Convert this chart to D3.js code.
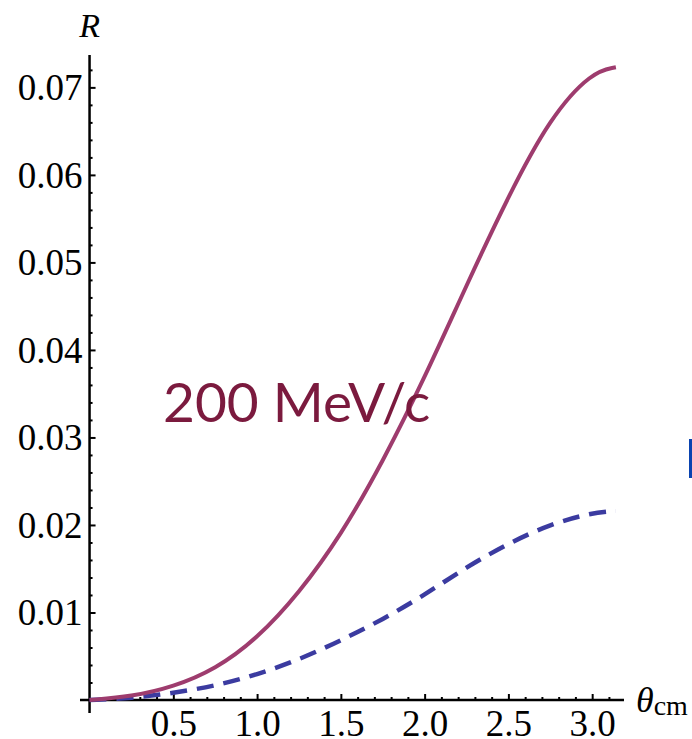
<!DOCTYPE html>
<html>
<head>
<meta charset="utf-8">
<script src="https://cdn.jsdelivr.net/npm/d3@7"></script>
<style>
  html, body { margin: 0; padding: 0; background: #fff; }
  svg { display: block; }
</style>
</head>
<body>
<script>
// ---- data ----
const theta = [0, 0.25, 0.5, 0.75, 1.0, 1.25, 1.5, 1.75, 2.0, 2.25, 2.5, 2.75, 3.0, 3.1416];
const solidR = [0, 0.0004, 0.0015, 0.0035, 0.0070, 0.0122, 0.0188, 0.0272, 0.0368, 0.0474, 0.0576, 0.0666, 0.0718, 0.0723];
const dashedR = [0, 0.0002, 0.0008, 0.0016, 0.0029, 0.0046, 0.0068, 0.0092, 0.0120, 0.0152, 0.0179, 0.0201, 0.0214, 0.0216];
const xTicks = [0.5, 1.0, 1.5, 2.0, 2.5, 3.0];
const yTicks = [0.01, 0.02, 0.03, 0.04, 0.05, 0.06, 0.07];
const xLabel = "θ";
const xLabelSub = "cm";
const yLabel = "R";
const annotation = "200 MeV/c";

const W = 692, H = 739;
const svg = d3.select("body").append("svg").attr("width", W).attr("height", H);

const x = d3.scaleLinear().domain([-0.057, 3.19]).range([80, 624]);
const y = d3.scaleLinear().domain([0, 0.0737]).range([700, 55]);
const x0 = x(0), y0 = y(0);

// minor ticks
const xMinor = d3.range(1, 32).map(i => i / 10).filter(v => Math.abs(v * 2 - Math.round(v * 2)) > 1e-6);
const yMinor = d3.range(1, 37).map(i => i * 0.002).filter(v => Math.abs(v * 100 - Math.round(v * 100)) > 1e-6);

const tickFont = "'Liberation Serif', 'Times New Roman', serif";

// x axis minor
svg.append("g").attr("transform", `translate(0,${y0})`)
  .call(d3.axisBottom(x).tickValues(xMinor).tickSizeInner(-3).tickSizeOuter(0).tickFormat(""))
  .call(g => g.select(".domain").remove())
  .call(g => g.selectAll("line").attr("stroke", "#000").attr("stroke-width", 2));
// x axis major
const gx = svg.append("g").attr("transform", `translate(0,${y0})`)
  .call(d3.axisBottom(x).tickValues(xTicks).tickSizeInner(-6).tickSizeOuter(0).tickPadding(0).tickFormat(d3.format(".1f")));
gx.select(".domain").remove();
gx.selectAll("line").attr("stroke", "#000").attr("stroke-width", 2);
gx.selectAll("text").attr("font-family", tickFont).attr("font-size", 37).attr("fill", "#000")
  .attr("dy", null).attr("y", 36);
svg.append("line").attr("x1", 80).attr("x2", 624).attr("y1", y0).attr("y2", y0)
  .attr("stroke", "#000").attr("stroke-width", 2.5);

// y axis minor
svg.append("g").attr("transform", `translate(${x0},0)`)
  .call(d3.axisLeft(y).tickValues(yMinor).tickSizeInner(-3).tickSizeOuter(0).tickFormat(""))
  .call(g => g.select(".domain").remove())
  .call(g => g.selectAll("line").attr("stroke", "#000").attr("stroke-width", 2));
// y axis major
const gy = svg.append("g").attr("transform", `translate(${x0},0)`)
  .call(d3.axisLeft(y).tickValues(yTicks).tickSizeInner(-6).tickSizeOuter(0).tickPadding(7).tickFormat(d3.format(".2f")));
gy.select(".domain").remove();
gy.selectAll("line").attr("stroke", "#000").attr("stroke-width", 2);
gy.selectAll("text").attr("font-family", tickFont).attr("font-size", 37).attr("fill", "#000")
  .attr("dy", "0.33em");
svg.append("line").attr("x1", x0).attr("x2", x0).attr("y1", 55).attr("y2", 713)
  .attr("stroke", "#000").attr("stroke-width", 2.5);

// axis labels
svg.append("text").attr("x", x0).attr("y", 37).attr("text-anchor", "middle")
  .attr("font-family", tickFont).attr("font-style", "italic").attr("font-size", 34).text(yLabel);
const xl = svg.append("text").attr("x", 636).attr("y", 712)
  .attr("font-family", tickFont).attr("font-size", 36);
xl.append("tspan").attr("font-style", "italic").text(xLabel);
xl.append("tspan").attr("font-size", 28).attr("dy", 3).text(xLabelSub);

// curves
const line = d3.line().x(d => x(d[0])).y(d => y(d[1])).curve(d3.curveBasis);
svg.append("path").datum(theta.map((t, i) => [t, dashedR[i]]))
  .attr("d", line).attr("fill", "none").attr("stroke", "#3b3ba0")
  .attr("stroke-width", 4.5).attr("stroke-dasharray", "17,10");
svg.append("path").datum(theta.map((t, i) => [t, solidR[i]]))
  .attr("d", line).attr("fill", "none").attr("stroke", "#9e3c6e")
  .attr("stroke-width", 4);

// annotation
svg.append("text").attr("x", 163).attr("y", 422)
  .attr("font-family", "Lato, 'Open Sans', sans-serif").attr("font-size", 55)
  .attr("fill", "#7b1a3e").text(annotation);

// clipped fragment at right edge
svg.append("rect").attr("x", 689).attr("y", 439).attr("width", 3).attr("height", 39).attr("fill", "#0a43b0");
</script>
</body>
</html>
